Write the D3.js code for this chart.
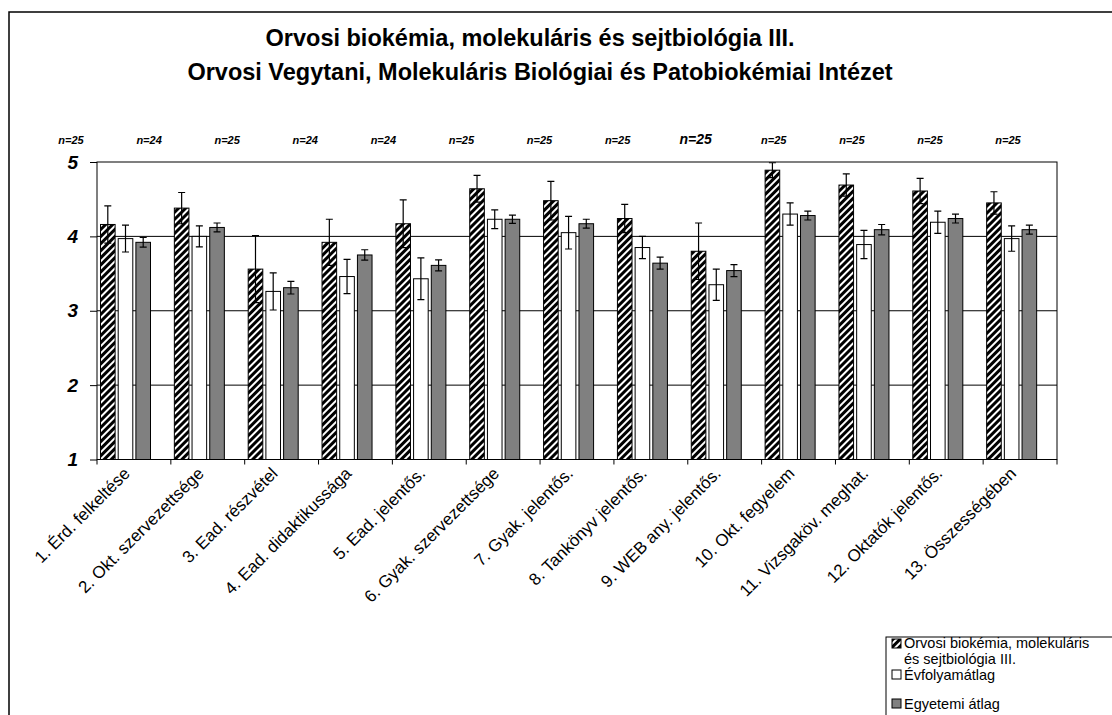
<!DOCTYPE html>
<html>
<head>
<meta charset="utf-8">
<script src="https://cdn.jsdelivr.net/npm/d3@7"></script>
<style>
  body { margin: 0; background: #fff; }
  svg { display: block; font-family: Arial, "Liberation Sans", sans-serif; }
</style>
</head>
<body>
<script>
// adatok
let categories = ["1. Érd. felkeltése", "2. Okt. szervezettsége", "3. Ead. részvétel",
  "4. Ead. didaktikussága", "5. Ead. jelentős.", "6. Gyak. szervezettsége", "7. Gyak. jelentős.",
  "8. Tankönyv jelentős.", "9. WEB any. jelentős.", "10. Okt. fegyelem", "11. Vizsgaköv. meghat.",
  "12. Oktatók jelentős.", "13. Összességében"];
let nLabels = ["n=25", "n=24", "n=25", "n=24", "n=24", "n=25", "n=25", "n=25", "n=25", "n=25", "n=25", "n=25", "n=25"];
let seriesNames = ["Orvosi biokémia, molekuláris és sejtbiológia III.", "Évfolyamátlag", "Egyetemi átlag"];

let targy = [4.16, 4.38, 3.56, 3.92, 4.17, 4.64, 4.48, 4.24, 3.80, 4.89, 4.69, 4.61, 4.45];
let targyErr = [0.25, 0.21, 0.45, 0.31, 0.32, 0.18, 0.26, 0.19, 0.38, 0.10, 0.15, 0.17, 0.15];
let evfolyam = [3.97, 4.00, 3.26, 3.46, 3.43, 4.23, 4.05, 3.85, 3.35, 4.30, 3.89, 4.19, 3.97];
let evfolyamErr = [0.18, 0.14, 0.25, 0.23, 0.28, 0.125, 0.22, 0.15, 0.21, 0.15, 0.19, 0.15, 0.17];
let egyetem = [3.92, 4.12, 3.31, 3.75, 3.61, 4.23, 4.17, 3.64, 3.54, 4.28, 4.09, 4.24, 4.09];
let egyetemErr = [0.065, 0.06, 0.085, 0.07, 0.075, 0.055, 0.06, 0.08, 0.08, 0.06, 0.07, 0.06, 0.06];
let yTicks = [1, 2, 3, 4, 5];

let width = 1112, height = 715;
let pLeft = 97, pRight = 1057, pTop = 162, pBottom = 459.5;

let svg = d3.select("body").append("svg")
  .attr("width", width)
  .attr("height", height);

// csíkos minta az első sorozathoz
let defs = svg.append("defs");
let pat = defs.append("pattern")
  .attr("id", "stripes")
  .attr("patternUnits", "userSpaceOnUse")
  .attr("width", 5)
  .attr("height", 10)
  .attr("patternTransform", "rotate(45)");
pat.append("rect").attr("width", 5).attr("height", 10).attr("fill", "#000");
pat.append("rect").attr("width", 2).attr("height", 10).attr("fill", "#fff");

// külső keret
svg.append("rect")
  .attr("x", 9).attr("y", 12)
  .attr("width", 1200).attr("height", 800)
  .attr("fill", "none").attr("stroke", "#000").attr("stroke-width", 1.5);

// cím
svg.append("text")
  .attr("x", 530).attr("y", 46)
  .attr("text-anchor", "middle")
  .attr("font-size", 23.5).attr("font-weight", "bold")
  .text("Orvosi biokémia, molekuláris és sejtbiológia III.");
svg.append("text")
  .attr("x", 540).attr("y", 80)
  .attr("text-anchor", "middle")
  .attr("font-size", 23.5).attr("font-weight", "bold")
  .text("Orvosi Vegytani, Molekuláris Biológiai és Patobiokémiai Intézet");

let x = d3.scaleBand().domain(categories).range([pLeft, pRight]);
let xSub = d3.scaleBand().domain(seriesNames).range([3.5, 53.5]).paddingInner(0.175);
let y = d3.scaleLinear().domain([1, 5]).range([pBottom, pTop]);

// rácsvonalak
svg.append("g")
  .selectAll("line")
  .data(yTicks.slice(1, 4))
  .enter().append("line")
  .attr("x1", pLeft).attr("x2", pRight)
  .attr("y1", d => y(d)).attr("y2", d => y(d))
  .attr("stroke", "#000").attr("stroke-width", 1);

// plot keret
svg.append("rect")
  .attr("x", pLeft).attr("y", pTop)
  .attr("width", pRight - pLeft).attr("height", pBottom - pTop)
  .attr("fill", "none").attr("stroke", "#000").attr("stroke-width", 1);

// y tengely
let yAxis = svg.append("g")
  .attr("transform", "translate(" + pLeft + ",0)")
  .call(d3.axisLeft(y).tickValues(yTicks).tickSize(7).tickPadding(12).tickFormat(d3.format("d")));
yAxis.select(".domain").remove();
yAxis.selectAll("text")
  .attr("font-size", 19).attr("font-weight", "bold").attr("font-style", "italic")
  .attr("font-family", "Arial, 'Liberation Sans', sans-serif");

// x tengely (osztásjelek)
let xAxis = svg.append("g")
  .attr("transform", "translate(0," + pBottom + ")");
xAxis.append("line")
  .attr("x1", pLeft).attr("x2", pRight)
  .attr("stroke", "#000");
xAxis.selectAll(".tk")
  .data(categories)
  .enter().append("line")
  .attr("class", "tk")
  .attr("x1", d => x(d)).attr("x2", d => x(d))
  .attr("y1", 0).attr("y2", 5)
  .attr("stroke", "#000");
xAxis.append("line")
  .attr("x1", pRight).attr("x2", pRight)
  .attr("y1", 0).attr("y2", 5)
  .attr("stroke", "#000");

xAxis.selectAll(".lbl")
  .data(categories)
  .enter().append("text")
  .attr("class", "lbl")
  .attr("text-anchor", "end")
  .attr("font-size", 17)
  .attr("transform", d => "translate(" + (x(d) + 34) + ",15) rotate(-45)")
  .text(d => d);

// oszlopok
let series = [
  {name: seriesNames[0], values: targy, err: targyErr, fill: "url(#stripes)"},
  {name: seriesNames[1], values: evfolyam, err: evfolyamErr, fill: "#fff"},
  {name: seriesNames[2], values: egyetem, err: egyetemErr, fill: "#808080"}
];

series.forEach(function(s) {
  let g = svg.append("g");
  g.selectAll("rect")
    .data(categories)
    .enter().append("rect")
    .attr("x", d => x(d) + xSub(s.name))
    .attr("y", (d, i) => y(s.values[i]))
    .attr("width", xSub.bandwidth())
    .attr("height", (d, i) => pBottom - y(s.values[i]))
    .attr("fill", s.fill)
    .attr("stroke", "#000").attr("stroke-width", 1);

  // hibasávok
  let cx = d => x(d) + xSub(s.name) + xSub.bandwidth() / 2;
  g.selectAll(".eb")
    .data(categories)
    .enter().append("path")
    .attr("class", "eb")
    .attr("d", function(d, i) {
      let c = cx(d), hi = y(s.values[i] + s.err[i]), lo = y(s.values[i] - s.err[i]);
      return "M" + c + "," + hi + "V" + lo +
        "M" + (c - 3.5) + "," + hi + "H" + (c + 3.5) +
        "M" + (c - 3.5) + "," + lo + "H" + (c + 3.5);
    })
    .attr("fill", "none").attr("stroke", "#000").attr("stroke-width", 1.2);
});

// n= feliratok
let nScale = d3.scalePoint().domain(categories).range([71, 1008]);
svg.selectAll(".nlab")
  .data(categories)
  .enter().append("text")
  .attr("class", "nlab")
  .attr("x", d => nScale(d))
  .attr("y", 144)
  .attr("text-anchor", "middle")
  .attr("font-weight", "bold").attr("font-style", "italic")
  .attr("font-size", (d, i) => i === 8 ? 14 : 11)
  .text((d, i) => nLabels[i]);

// jelmagyarázat
let leg = svg.append("g");
leg.append("rect")
  .attr("x", 886).attr("y", 637)
  .attr("width", 300).attr("height", 120)
  .attr("fill", "#fff").attr("stroke", "#000");
let legY = [639, 670, 699];
let legLines = [[seriesNames[0].slice(0, 28), seriesNames[0].slice(29)], [seriesNames[1]], [seriesNames[2]]];
let legBase = [[648, 664], [680], [709]];
series.forEach(function(s, i) {
  leg.append("rect")
    .attr("x", 892).attr("y", legY[i])
    .attr("width", 9).attr("height", 9)
    .attr("fill", s.fill).attr("stroke", "#000");
  legLines[i].forEach(function(t, j) {
    leg.append("text")
      .attr("x", 904).attr("y", legBase[i][j])
      .attr("font-size", 14.5)
      .text(t);
  });
});
</script>
</body>
</html>
